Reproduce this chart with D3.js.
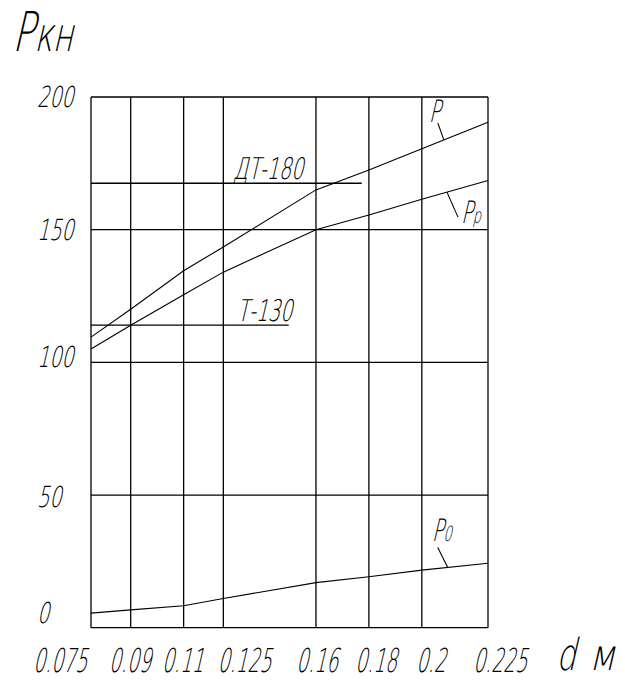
<!DOCTYPE html>
<html>
<head>
<meta charset="utf-8">
<script src="https://cdn.jsdelivr.net/npm/d3@7"></script>
<style>
  html, body { margin: 0; padding: 0; background: #fff; }
</style>
</head>
<body>
<div id="chart"></div>
<script>
// ---------------------------DATA-----------------------------------
const diameters = [0.075, 0.09, 0.11, 0.125, 0.16, 0.18, 0.2, 0.225];
const diameterLabels = ["0.075", "0.09", "0.11", "0.125", "0.16", "0.18", "0.2", "0.225"];
const forceP = [109.5, 120, 134.5, 143.5, 165, 172.5, 180.5, 190.5];
const forcePp = [105, 114, 125.5, 134, 150, 155.5, 161.5, 168.5];
const forceP0 = [5.5, 6.7, 8.3, 11, 17, 19.2, 21.7, 24.3];
const yTicks = [0, 50, 100, 150, 200];
const tractors = ["ДТ-180", "Т-130"];
const tractorForce = [167.5, 114];
const tractorLineEnd = [0.1773, 0.1497];

// ---------------------------LAYOUT-----------------------------------
const width = 625;
const height = 682;
const plot = { left: 91, right: 488, top: 97, bottom: 627.7 };
const FONT = "'DejaVu Sans', sans-serif";
const xLabelNudge = [-31, -1, -1, 21, 1, 7, 9, 12]; // hand placed under grid
const yLabelDy = [-5, 12, 5, 10, 10];
const tractorLabelX = [233, 237];

const x = d3.scaleLinear().domain([0.075, 0.225]).range([plot.left, plot.right]);
const y = d3.scaleLinear().domain([0, 200]).range([plot.bottom, plot.top]);

const svg = d3.select("#chart")
  .append("svg")
  .attr("width", width)
  .attr("height", height);

// drafting style text: thin, slanted, narrow
function draft(g, px, py, size, anchor, squeeze) {
  return g.append("text")
    .attr("transform", `translate(${px},${py}) skewX(-13) scale(${squeeze || 0.68},1)`)
    .attr("text-anchor", anchor || "start")
    .attr("font-family", FONT)
    .attr("font-weight", 200)
    .attr("font-size", size)
    .attr("fill", "black");
}

// value of a series at any d, read along its polyline
function valueAt(series, d) {
  const i = Math.min(d3.bisectRight(diameters, d), diameters.length - 1);
  const t = (d - diameters[i - 1]) / (diameters[i] - diameters[i - 1]);
  return series[i - 1] + t * (series[i] - series[i - 1]);
}

// ---------------------------GRID-----------------------------------
const grid = svg.append("g").attr("stroke", "black").attr("stroke-width", 1.3);

grid.selectAll("line.v")
  .data(diameters)
  .join("line")
  .attr("class", "v")
  .attr("x1", (d) => x(d)).attr("x2", (d) => x(d))
  .attr("y1", y(0)).attr("y2", y(200));

grid.selectAll("line.h")
  .data(yTicks)
  .join("line")
  .attr("class", "h")
  .attr("x1", x(0.075)).attr("x2", x(0.225))
  .attr("y1", (d) => y(d)).attr("y2", (d) => y(d));

// tractor reference lines
grid.selectAll("line.tractor")
  .data(tractors)
  .join("line")
  .attr("class", "tractor")
  .attr("x1", x(0.075))
  .attr("x2", (d, i) => x(tractorLineEnd[i]))
  .attr("y1", (d, i) => y(tractorForce[i]))
  .attr("y2", (d, i) => y(tractorForce[i]));

tractors.forEach((name, i) => {
  draft(svg, tractorLabelX[i], y(tractorForce[i]) - 4, 30, "start", 0.64).text(name);
});

// ---------------------------CURVES-----------------------------------
const line = d3.line()
  .x((d, i) => x(diameters[i]))
  .y((d) => y(d));

const curves = [
  { values: forceP, main: "Р", sub: "", at: 0.2083, tip: [-6, -17], text: [-15, -18] },
  { values: forcePp, main: "Р", sub: "р", at: 0.2095, tip: [11, 25], text: [14, 31] },
  { values: forceP0, main: "Р", sub: "0", at: 0.2098, tip: [-10, -20], text: [-16, -26] },
];

svg.append("g")
  .selectAll("path")
  .data(curves)
  .join("path")
  .attr("d", (c) => line(c.values))
  .attr("fill", "none")
  .attr("stroke", "black")
  .attr("stroke-width", 1.1);

curves.forEach((c) => {
  const px = x(c.at);
  const py = y(valueAt(c.values, c.at));
  svg.append("line")
    .attr("x1", px).attr("y1", py)
    .attr("x2", px + c.tip[0]).attr("y2", py + c.tip[1])
    .attr("stroke", "black")
    .attr("stroke-width", 1.1);
  const t = draft(svg, px + c.text[0], py + c.text[1], 31, "start", 0.62);
  t.append("tspan").text(c.main);
  if (c.sub) t.append("tspan").attr("font-size", 21).text(c.sub);
});

// ---------------------------AXES TEXT-----------------------------------
diameterLabels.forEach((label, i) => {
  draft(svg, x(diameters[i]) + xLabelNudge[i], 672, 33, "middle", 0.57).text(label);
});

yTicks.forEach((v, i) => {
  draft(svg, 37, y(v) + yLabelDy[i], 29, "start", 0.66).text(v);
});

// axis titles
const title = draft(svg, 12, 51, 55, "start", 0.66);
title.append("tspan").text("Р");
title.append("tspan").attr("font-size", 47).text("кн");

draft(svg, 556, 670, 44, "start", 0.7).text("d");
draft(svg, 589, 670, 43, "start", 0.8).text("м");
</script>
</body>
</html>
